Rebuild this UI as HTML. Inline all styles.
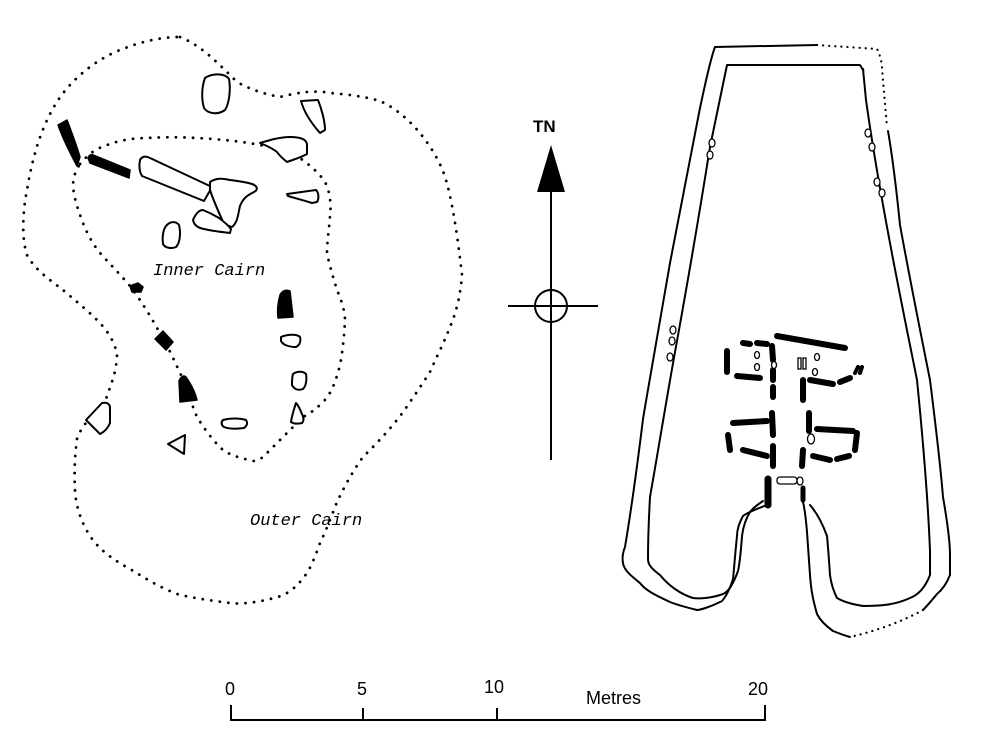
<!DOCTYPE html>
<html><head><meta charset="utf-8"><style>
html,body{margin:0;padding:0;background:#fff;width:981px;height:747px;overflow:hidden}
svg{display:block}
.d{fill:none;stroke:#000;stroke-width:2.8;stroke-dasharray:0.1 8.5;stroke-linecap:round}
.o{fill:#fff;stroke:#000;stroke-width:2;stroke-linejoin:round}
.b{fill:#000;stroke:#000;stroke-width:1.5;stroke-linejoin:round}
.w{fill:none;stroke:#000;stroke-width:2;stroke-linejoin:round;stroke-linecap:round}
.s{stroke:#000;stroke-width:6;stroke-linecap:round;fill:none}
.e{fill:#fff;stroke:#000;stroke-width:1.3}
</style></head><body>
<svg width="981" height="747" viewBox="0 0 981 747" xmlns="http://www.w3.org/2000/svg">
<path class="d" d="M180,37 C200,45 215,60 237,82 C255,92 270,95 280,97 C300,92 315,90 330,93 C355,95 370,98 380,101 C405,112 430,140 443,171 C452,195 458,240 462,275 C460,300 455,315 450,327 C443,345 435,360 430,372 C415,395 405,410 397,420 C385,435 373,447 363,457 C350,475 343,490 337,502 C330,520 325,533 320,543 C314,560 310,568 307,573 C295,590 285,596 270,599 C250,604 235,604 230,603 C205,600 190,597 180,595 C160,588 145,578 130,569 C110,558 98,548 90,536 C80,520 76,505 75,491 C74,470 75,455 77,439 C82,425 90,418 97,413 C104,405 108,395 110,387 C115,375 117,363 117,353 C113,338 105,328 97,320 C85,308 72,298 63,290 C50,280 35,270 27,255 C22,240 22,215 27,190 C32,160 40,130 55,105 C70,80 95,60 120,50 C140,42 160,37 180,37 Z"/>
<path class="d" d="M80,164 C90,152 98,148 107,145 C120,140 135,138 147,138 C165,137 180,137 197,138 C220,139 245,142 260,145 C275,148 288,152 297,156 C310,165 322,175 327,186 C331,198 331,208 330,216 C329,230 327,242 327,253 C330,268 334,280 337,290 C342,302 345,312 345,320 C344,340 342,355 340,365 C335,385 330,395 323,402 C315,410 309,414 303,417 C290,430 275,445 263,457 C259,460 256,461 253,461 C240,458 230,455 223,450 C212,440 204,428 197,417 C192,405 188,392 183,379 C176,365 170,350 163,339 C153,320 142,302 130,286 C118,272 108,262 100,253 C92,243 87,233 83,223 C78,210 74,198 73,186 C73,177 76,170 80,164"/>
<path class="o" d="M205,78 C212,73 225,73 229,79 C231,90 229,104 225,110 C218,115 208,114 204,108 C201,98 202,86 205,78 Z"/>
<path class="o" d="M301,101 L318,100 C322,110 325,122 325,130 L320,133 C312,124 304,112 301,101 Z"/>
<path class="o" d="M260,143 C270,140 280,137 290,137 C300,137 307,139 307,145 L307,154 C300,158 292,160 287,162 C282,158 279,155 277,152 C272,148 265,145 260,143 Z"/>
<path class="o" d="M287,194 L316,190 C319,193 319,199 317,202 L312,203 C303,200 294,198 288,196 Z"/>
<path class="o" d="M140,160 C142,156 146,156 150,158 L212,187 L204,201 L142,176 C139,171 139,165 140,160 Z"/>
<path class="o" d="M210,182 C216,178 222,178 230,180 C238,181 246,182 252,184 C258,186 258,190 254,192 C248,195 243,198 240,206 C238,214 238,222 232,227 L224,224 C219,213 214,202 210,190 Z"/>
<path class="o" d="M193,220 C196,213 199,210 203,210 C208,212 214,215 219,218 C223,221 228,225 231,229 L230,233 C222,232 212,231 204,229 C198,228 194,225 193,220 Z"/>
<path class="o" d="M166,226 C170,221 176,221 179,225 C181,233 180,243 176,247 C171,249 165,248 163,244 C162,237 163,230 166,226 Z"/>
<path class="o" d="M281,337 C288,334 297,334 300,337 C301,341 300,345 296,347 C289,347 283,345 281,341 Z"/>
<path class="o" d="M293,374 C297,371 303,371 306,374 C307,380 306,386 303,389 C298,391 294,389 292,385 C292,380 292,377 293,374 Z"/>
<path class="o" d="M296,403 C299,406 300,410 302,414 C304,418 304,421 302,423 C298,424 294,424 291,422 C292,415 294,409 296,403 Z"/>
<path class="o" d="M223,420 C230,418 240,418 246,420 C248,423 247,426 244,428 C237,429 229,429 224,427 C221,425 221,422 223,420 Z"/>
<path class="o" d="M86,420 L102,403 C107,402 110,404 110,408 L110,423 C108,428 104,432 100,434 Z"/>
<path class="o" d="M168,444 L185,435 L184,454 Z"/>
<path class="b" d="M58,125 L67,120 C72,133 77,147 80,157 L77,166 C70,153 63,139 58,125 Z"/>
<path class="b" d="M88,158 C89,155 91,154 93,155 L130,170 L129,178 L90,163 Z"/>
<path class="b" d="M130,286 L138,283 L143,287 L141,292 L132,292 Z"/>
<path class="b" d="M280,295 C282,291 286,289 290,291 L293,317 L278,318 C277,310 278,302 280,295 Z"/>
<path class="b" d="M155,339 L163,331 L173,342 L166,350 Z"/>
<path class="b" d="M179,381 C181,376 184,375 186,377 C191,384 195,392 197,400 L180,402 Z"/>
<text x="153" y="275" font-family="Liberation Mono, monospace" font-style="italic" font-size="17">Inner Cairn</text>
<text x="250" y="525" font-family="Liberation Mono, monospace" font-style="italic" font-size="17">Outer Cairn</text>
<text x="533" y="132" font-family="Liberation Sans, sans-serif" font-weight="bold" font-size="17">TN</text>
<polygon points="551,145 537,192 565,192" fill="#000"/>
<line x1="551" y1="190" x2="551" y2="460" stroke="#000" stroke-width="2"/>
<line x1="508" y1="306" x2="598" y2="306" stroke="#000" stroke-width="2"/>
<circle cx="551" cy="306" r="16" fill="none" stroke="#000" stroke-width="2"/>
<g font-family="Liberation Sans, sans-serif" font-size="18">
<text x="225" y="695">0</text><text x="357" y="695">5</text><text x="484" y="693">10</text><text x="586" y="704">Metres</text><text x="748" y="695">20</text>
</g>
<path d="M231,705 V720 H765 V705 M363,708 V720 M497,708 V720" fill="none" stroke="#000" stroke-width="2"/>
<path class="w" d="M767,505 C757,509 748,512 743,516 C738,525 737,532 737,536 C735,555 734,570 733,579 C728,595 722,602 720,602 C710,607 700,610 697,610 C685,607 675,604 670,602 C655,595 645,590 640,583 C630,575 624,570 623,563 C622,558 623,552 625,547 C632,505 638,460 643,419 C652,365 662,310 670,263 C680,210 690,160 700,108 C705,85 710,60 715,47 L817,45"/>
<path d="M817,45 L877,49 C880,55 882,62 882,69 L887,127" fill="none" stroke="#000" stroke-width="2.2" stroke-dasharray="0.1 6" stroke-linecap="round"/>
<path class="w" d="M888,131 C893,160 897,195 900,225 C910,280 922,340 930,380 C935,420 940,460 943,497 C947,520 950,540 950,555 L950,575 C946,585 942,590 937,594 C932,600 928,605 923,610"/>
<path d="M923,610 C905,620 880,630 850,637" fill="none" stroke="#000" stroke-width="2.2" stroke-dasharray="0.1 6" stroke-linecap="round"/>
<path class="w" d="M850,637 C843,635 838,633 833,631 C826,626 820,620 817,614 C813,600 811,590 810,575 C809,560 808,545 807,532 C806,520 805,510 803,502"/>
<path class="w" d="M763,501 C757,505 753,508 750,512 C745,520 743,528 742,536 C741,550 740,562 738,571 C733,585 728,592 723,594 C712,598 700,599 693,598 C680,594 668,585 660,575 C652,569 648,565 648,559 C648,540 649,515 650,497 C660,440 668,390 677,341 C688,280 700,210 710,147 L727,65 L860,65 C863,70 864,72 863,69 L866,100 C880,200 905,320 917,380 C922,430 928,500 930,551 C930,565 930,570 930,575 C925,588 918,595 910,598 C895,605 880,606 863,606 C850,604 842,601 837,598 C833,590 831,583 830,575 C829,560 828,546 827,536 C822,522 816,512 810,505"/>
<g class="s">
<path d="M777,336 L845,348"/>
<path d="M727,351 L727,372"/>
<path d="M743,343 L750,344"/><path d="M757,343 L767,344"/>
<path d="M772,346 L773,360"/><path d="M773,370 L773,380"/><path d="M773,387 L773,397"/>
<path d="M737,376 L760,378"/>
<path d="M803,380 L803,400"/>
<path d="M810,380 L833,384"/><path d="M840,382 L850,378"/>
<path d="M855,373 L858,367" stroke-width="4"/><path d="M860,373 L862,367" stroke-width="4"/>
<path d="M733,423 L767,421"/>
<path d="M728,435 L730,450"/>
<path d="M743,450 L767,456"/>
<path d="M772,413 L773,435"/><path d="M773,446 L773,466"/>
<path d="M809,413 L809,431"/>
<path d="M817,429 L853,431"/>
<path d="M857,433 L855,450"/>
<path d="M837,459 L849,456"/>
<path d="M813,456 L830,460"/>
<path d="M803,450 L802,466"/>
<path d="M768,479 L768,505" stroke-width="7"/>
<path d="M803,488 L803,500" stroke-width="5"/>
</g>
<rect x="777" y="477" width="20" height="7" rx="3" class="e"/>
<ellipse cx="800" cy="481" rx="3" ry="4" class="e"/>
<ellipse cx="712" cy="143" rx="3" ry="4" class="e"/><ellipse cx="710" cy="155" rx="3" ry="4" class="e"/>
<ellipse cx="868" cy="133" rx="3" ry="4" class="e"/><ellipse cx="872" cy="147" rx="3" ry="4" class="e"/>
<ellipse cx="877" cy="182" rx="3" ry="4" class="e"/><ellipse cx="882" cy="193" rx="3" ry="4" class="e"/>
<ellipse cx="673" cy="330" rx="3" ry="4" class="e"/><ellipse cx="672" cy="341" rx="3" ry="4" class="e"/><ellipse cx="670" cy="357" rx="3" ry="4" class="e"/>
<ellipse cx="757" cy="355" rx="2.5" ry="3.5" class="e"/><ellipse cx="757" cy="367" rx="2.5" ry="3.5" class="e"/>
<ellipse cx="774" cy="365" rx="2.5" ry="3.5" class="e"/>
<rect x="798" y="358" width="3" height="11" class="e"/><rect x="803" y="358" width="3" height="11" class="e"/>
<ellipse cx="817" cy="357" rx="2.5" ry="3.5" class="e"/><ellipse cx="815" cy="372" rx="2.5" ry="3.5" class="e"/>
<ellipse cx="811" cy="439" rx="3.5" ry="5" class="e"/>
</svg>
</body></html>
